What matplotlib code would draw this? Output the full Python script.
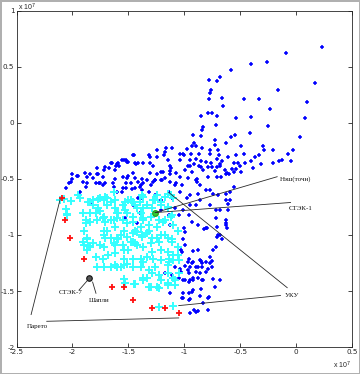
import numpy as np
import matplotlib
matplotlib.use("Agg")
import matplotlib.pyplot as plt
from matplotlib.ticker import FixedLocator, FuncFormatter

# all values in units of 1e7
blue_pts = [
    (0.23, 0.68), (-0.09, 0.62), (-0.26, 0.54), (-0.40, 0.53), (-0.58, 0.47), (-0.68, 0.41),
    (-0.78, 0.38), (-0.71, 0.37), (0.17, 0.36), (-0.16, 0.29), (-0.76, 0.29), (-0.77, 0.27),
    (-0.78, 0.21), (-0.33, 0.21), (-0.47, 0.21), (-0.66, 0.22), (0.10, 0.19), (-0.65, 0.15),
    (-0.23, 0.12), (-0.79, 0.09), (-0.75, 0.09), (-0.71, 0.06), (-0.85, 0.06), (-0.54, 0.04),
    (-0.40, 0.05), (0.08, 0.04), (-0.72, -0.02), (-0.83, -0.04), (-0.84, -0.06), (-0.25, -0.03),
    (-0.41, -0.09), (-0.92, -0.11), (-0.85, -0.12), (-0.55, -0.11), (-0.58, -0.13), (0.03, -0.13),
    (-0.73, -0.15), (-0.91, -0.18), (-0.93, -0.21), (-0.90, -0.21), (-0.73, -0.20), (-0.98, -0.23),
    (-0.84, -0.22), (-0.63, -0.18), (-0.49, -0.21), (-0.30, -0.21), (-0.29, -0.24), (-0.21, -0.24),
    (-0.03, -0.24), (-0.70, -0.24), (-0.77, -0.24), (-0.87, -0.28), (-0.94, -0.28), (-1.01, -0.28),
    (-0.77, -0.28), (-0.69, -0.29), (-0.61, -0.30), (-0.47, -0.28), (-0.54, -0.29), (-0.07, -0.28),
    (-0.33, -0.29), (-0.37, -0.30), (-0.71, -0.32), (-0.90, -0.32), (-0.85, -0.34), (-0.81, -0.35),
    (-0.76, -0.36), (-0.66, -0.34), (-0.68, -0.37), (-0.56, -0.36), (-0.52, -0.36), (-0.46, -0.36),
    (-0.40, -0.34), (-0.31, -0.37), (-0.21, -0.36), (-0.15, -0.34), (-0.13, -0.33), (-0.05, -0.34),
    (-0.97, -0.38), (-0.95, -0.38), (-0.91, -0.37), (-0.87, -0.38), (-0.85, -0.39), (-0.83, -0.42),
    (-0.79, -0.39), (-0.75, -0.39), (-0.73, -0.43), (-0.71, -0.39), (-0.68, -0.38), (-0.64, -0.42),
    (-0.63, -0.46), (-0.62, -0.45), (-0.60, -0.46), (-0.57, -0.41), (-0.54, -0.41), (-0.50, -0.38),
    (-0.56, -0.44), (-0.49, -0.44), (-0.39, -0.40), (-0.71, -0.48), (-0.67, -0.48), (-0.79, -0.48),
    (-0.89, -0.50),
    # left band
    (-2.00, -0.46), (-2.01, -0.53), (-2.06, -0.58), (-1.96, -0.47), (-1.89, -0.45), (-1.87, -0.48),
    (-1.82, -0.49), (-1.78, -0.40), (-1.78, -0.46), (-1.73, -0.48), (-1.79, -0.54), (-1.75, -0.54),
    (-1.72, -0.42), (-1.66, -0.36), (-1.62, -0.42), (-1.63, -0.57), (-1.60, -0.37), (-1.58, -0.38),
    (-1.56, -0.33), (-1.52, -0.33), (-1.50, -0.35), (-1.51, -0.49), (-1.46, -0.29), (-1.44, -0.36),
    (-1.41, -0.36), (-1.39, -0.55), (-1.37, -0.54), (-1.33, -0.51), (-1.31, -0.30), (-1.31, -0.36),
    (-1.31, -0.45), (-1.30, -0.55), (-1.28, -0.53), (-1.26, -0.51), (-1.24, -0.24), (-1.24, -0.46),
    (-1.21, -0.51), (-1.19, -0.44), (-1.17, -0.49), (-1.18, -0.29), (-1.16, -0.22), (-1.15, -0.33),
    (-1.13, -0.43), (-1.12, -0.40), (-1.11, -0.22), (-1.07, -0.54), (-1.04, -0.28), (-1.04, -0.48),
    (-1.54, -0.33), (-1.59, -0.36), (-1.61, -0.38), (-1.65, -0.36), (-1.67, -0.40), (-1.71, -0.39),
    (-1.77, -0.46), (-1.84, -0.46), (-1.95, -0.47), (-2.00, -0.50), (-2.03, -0.54), (-1.91, -0.53),
    (-1.87, -0.54), (-1.88, -0.57), (-1.76, -0.54), (-1.73, -0.55), (-1.71, -0.54), (-1.64, -0.54),
    (-1.62, -0.50), (-1.55, -0.48), (-1.50, -0.47), (-1.46, -0.45), (-1.44, -0.49), (-1.52, -0.54),
    (-1.48, -0.54), (-1.41, -0.53), (-1.38, -0.50), (-1.55, -0.58), (-1.52, -0.58), (-1.47, -0.59),
    (-1.44, -0.58), (-1.40, -0.57), (-1.38, -0.60), (-1.56, -0.62), (-1.60, -0.62), (-1.41, -0.67),
    (-1.38, -0.67), (-1.46, -0.73), (-1.40, -0.80), (-1.53, -0.85), (-1.42, -0.89), (-1.93, -0.62),
    (-1.83, -0.71), (-1.45, -0.29), (-1.37, -0.36), (-1.43, -0.37), (-1.51, -0.35),
    # middle
    (-1.32, -0.29), (-1.24, -0.30), (-1.17, -0.26), (-1.13, -0.38), (-1.04, -0.33), (-1.00, -0.29),
    (-1.28, -0.38), (-1.21, -0.44), (-1.13, -0.46), (-1.07, -0.45), (-0.99, -0.42), (-0.95, -0.33),
    (-1.26, -0.51), (-1.20, -0.51), (-1.13, -0.53), (-1.08, -0.55), (-1.02, -0.55), (-0.97, -0.49),
    (-0.93, -0.44), (-0.90, -0.51), (-0.86, -0.55), (-0.81, -0.60), (-0.77, -0.60), (-0.70, -0.64),
    (-0.63, -0.63), (-0.59, -0.69), (-1.32, -0.62), (-1.26, -0.64), (-1.21, -0.69), (-1.14, -0.62),
    (-1.11, -0.67), (-1.04, -0.62), (-0.98, -0.67), (-0.95, -0.64), (-0.90, -0.73), (-0.86, -0.69),
    (-0.77, -0.73), (-0.72, -0.78), (-0.61, -0.78), (-1.01, -0.78), (-0.96, -0.82), (-0.93, -0.88),
    (-0.88, -0.91), (-0.80, -0.94), (-0.72, -0.85), (-0.95, -0.73), (-1.21, -0.78), (-1.14, -0.82),
    (-1.08, -0.76), (-1.05, -0.82), (-1.13, -0.91), (-0.63, -0.91),
    # lower right column
    (-0.89, -0.53), (-0.88, -0.63), (-0.56, -0.57), (-0.59, -0.62), (-0.74, -0.63), (-0.63, -0.69),
    (-0.61, -0.72), (-0.68, -0.78), (-0.63, -0.87), (-0.63, -0.89), (-0.81, -0.94), (-0.71, -0.93),
    (-0.68, -1.00), (-0.71, -1.02), (-0.72, -1.11), (-0.74, -1.13), (-0.77, -1.20), (-0.75, -1.23),
    (-0.88, -1.13), (-0.92, -1.14), (-0.86, -1.22), (-0.84, -1.25), (-0.93, -1.25), (-0.95, -1.29),
    (-0.88, -1.29), (-0.81, -1.33), (-0.79, -1.30), (-0.97, -1.31), (-0.88, -1.38), (-0.92, -1.40),
    (-0.83, -1.40), (-0.96, -1.42), (-1.01, -1.40), (-0.73, -1.46), (-0.85, -1.48), (-0.92, -1.49),
    (-0.96, -1.52), (-1.01, -1.56), (-0.95, -1.57), (-0.86, -1.54), (-0.79, -1.56), (-0.83, -1.61),
    (-0.79, -1.67), (-0.90, -1.69), (-0.95, -1.70),
    (-1.00, -0.94), (-0.99, -0.97), (-0.82, -0.95), (-0.62, -0.94), (-0.70, -1.00), (-0.66, -1.04),
    (-1.01, -1.04), (-0.99, -1.09), (-1.03, -1.13), (-1.02, -1.15), (-0.96, -1.21), (-0.97, -1.24),
    (-0.92, -1.24), (-0.85, -1.23), (-0.81, -1.24), (-0.77, -1.25), (-0.75, -1.29), (-0.84, -1.29),
    (-0.90, -1.29), (-0.99, -1.28), (-1.04, -1.30), (-1.03, -1.33), (-1.08, -1.29), (-0.90, -1.33),
    (-0.96, -1.34), (-0.86, -1.34), (-0.92, -1.38), (-0.99, -1.40), (-0.95, -1.40), (-0.84, -1.40),
    (-0.74, -1.39), (-0.68, -1.40), (-1.05, -1.38), (-1.11, -1.36), (-1.17, -1.34), (-1.13, -1.52),
    (-1.01, -1.52), (-0.93, -1.51), (-0.78, -1.55), (-1.02, -1.56), (-0.96, -1.58), (-0.91, -1.67),
    (-0.88, -1.68),
]

cyan_pts = [
    (-2.11, -0.69), (-2.06, -0.77), (-2.05, -0.81), (-2.01, -0.70), (-1.93, -0.67), (-1.91, -0.80),
    (-1.88, -0.87), (-1.84, -0.71), (-1.82, -0.73), (-1.79, -0.80), (-1.77, -0.76), (-1.75, -0.67),
    (-1.72, -0.69), (-1.69, -0.67), (-1.66, -0.71), (-1.72, -0.84), (-1.71, -0.88), (-1.78, -0.87),
    (-1.84, -0.88), (-1.90, -0.96), (-1.87, -1.04), (-1.82, -1.07), (-1.90, -1.09), (-1.84, -1.11),
    (-1.75, -1.09), (-1.72, -1.00), (-1.69, -0.96), (-1.66, -1.03), (-1.62, -0.93), (-1.63, -0.87),
    (-1.59, -0.80), (-1.55, -0.87), (-1.53, -0.78), (-1.50, -0.69), (-1.46, -0.71), (-1.42, -0.76),
    (-1.46, -0.84), (-1.51, -0.89), (-1.54, -0.96), (-1.57, -1.00), (-1.60, -1.03), (-1.62, -1.09),
    (-1.55, -1.09), (-1.51, -1.02), (-1.46, -0.98), (-1.44, -0.96), (-1.39, -0.93), (-1.46, -1.06),
    (-1.42, -1.09), (-1.38, -1.02), (-1.33, -0.98), (-1.37, -0.87), (-1.30, -0.84), (-1.39, -0.80),
    (-1.33, -0.73), (-1.37, -0.66), (-1.28, -0.69), (-1.24, -0.64), (-1.21, -0.71), (-1.15, -0.75),
    (-1.15, -0.63), (-1.10, -0.67), (-1.12, -0.84), (-1.19, -0.88), (-1.24, -0.93), (-1.21, -1.00),
    (-1.15, -1.03), (-1.23, -1.06), (-1.30, -1.07), (-1.29, -1.15), (-1.21, -1.13), (-1.15, -1.15),
    (-1.10, -1.18), (-1.11, -1.04), (-1.06, -0.96), (-1.06, -1.11), (-1.05, -1.22), (-1.14, -1.24),
    (-1.21, -1.22), (-1.28, -1.21), (-1.33, -1.20), (-1.39, -1.21), (-1.46, -1.21), (-1.54, -1.21),
    (-1.62, -1.27), (-1.57, -1.29), (-1.66, -1.29), (-1.73, -1.21), (-1.79, -1.20), (-1.78, -1.29),
    (-1.87, -1.13),
    (-1.54, -1.39), (-1.53, -1.43), (-1.44, -1.44), (-1.37, -1.40), (-1.33, -1.38), (-1.30, -1.46),
    (-1.24, -1.46), (-1.21, -1.40), (-1.15, -1.43), (-1.15, -1.34), (-1.10, -1.38), (-1.08, -1.40),
    (-1.05, -1.34), (-1.23, -1.64), (-1.10, -1.63),
    (-1.32, -0.96), (-1.24, -1.03), (-1.29, -1.03), (-1.17, -1.00), (-1.11, -1.06), (-1.14, -1.21),
    (-1.15, -1.27), (-1.10, -1.22), (-1.06, -1.18), (-1.32, -1.31), (-1.26, -1.29), (-1.29, -1.34),
    (-1.23, -1.36), (-1.15, -1.45), (-1.08, -1.45), (-1.32, -1.46), (-1.23, -1.47),
    (-1.26, -0.69), (-1.21, -0.73), (-1.29, -0.76), (-1.15, -0.76), (-1.12, -0.64), (-1.17, -0.66),
    (-1.11, -0.82), (-1.23, -0.87), (-1.17, -0.87), (-1.10, -0.91), (-1.32, -0.91),
    (-2.08, -0.68), (-1.95, -0.64), (-1.86, -0.71), (-1.82, -0.69), (-1.77, -0.68), (-1.71, -0.66),
    (-1.63, -0.62), (-1.62, -0.69), (-1.69, -0.73), (-1.62, -0.76), (-1.55, -0.73), (-1.53, -0.71),
    (-1.48, -0.69), (-1.44, -0.73), (-1.40, -0.71), (-1.38, -0.64), (-1.37, -0.76), (-1.51, -0.80),
    (-1.60, -0.85), (-1.66, -0.87), (-1.73, -0.85), (-1.88, -0.89), (-2.05, -0.82), (-1.84, -0.80),
    (-1.75, -0.79), (-1.60, -0.80), (-1.46, -0.88), (-1.37, -0.85),
    (-1.87, -1.03), (-1.91, -1.06), (-1.86, -1.10), (-1.72, -0.96), (-1.71, -1.03), (-1.72, -1.11),
    (-1.66, -1.03), (-1.63, -1.07), (-1.59, -1.04), (-1.48, -1.06), (-1.44, -1.07), (-1.42, -0.97),
    (-1.38, -1.00), (-1.37, -1.11), (-1.54, -1.13), (-1.50, -1.13), (-1.62, -1.16), (-1.68, -1.18),
    (-1.72, -1.29), (-1.60, -1.29), (-1.54, -1.27), (-1.51, -1.26), (-1.46, -1.29), (-1.39, -1.29),
    (-1.37, -1.24), (-1.45, -1.44), (-1.37, -1.38),
]

red_pts = [
    (-2.09, -0.67), (-2.07, -0.87), (-2.02, -1.03), (-1.90, -1.21), (-1.65, -1.46),
    (-1.54, -1.46), (-1.46, -1.58), (-1.29, -1.65), (-1.17, -1.65), (-1.05, -1.70),
]

nash_pt = (-1.26, -0.80)
shapley_pt = (-1.85, -1.38)

xticks = [-2.5, -2, -1.5, -1, -0.5, 0, 0.5]
yticks = [-2, -1.5, -1, -0.5, 0, 0.5, 1]

fig = plt.figure(figsize=(3.6, 3.74), dpi=100)
fig.patch.set_edgecolor("#b0b0b0")
fig.patch.set_linewidth(1.0)
ax = fig.add_axes([0.046, 0.072, 0.932, 0.899])

b = np.array(blue_pts)
c = np.array(cyan_pts)
r = np.array(red_pts)
ax.plot(b[:, 0], b[:, 1], "+", color="#0000ff", ms=3.4, mew=1.1, ls="none")
ax.plot(c[:, 0], c[:, 1], "+", color="#33ffff", ms=5.2, mew=1.4, ls="none")
ax.plot(r[:, 0], r[:, 1], "+", color="#ff1010", ms=5, mew=1.3, ls="none")
ax.plot(*nash_pt, "o", color="#33cc33", mec="#22aa22", ms=4)
ax.plot(*shapley_pt, "o", color="#555555", mec="#111111", ms=4, mew=0.8)

# annotation lines
lc = "#2a2a2a"
lw = 0.6
ax.plot([-2.37, -2.11], [-1.71, -0.68], color=lc, lw=lw)
ax.plot([-2.23, -1.05], [-1.77, -1.74], color=lc, lw=lw)
ax.plot([-1.87, -1.94], [-1.41, -1.49], color=lc, lw=lw)
ax.plot([-1.82, -1.79], [-1.42, -1.52], color=lc, lw=lw)
ax.plot([nash_pt[0], -0.17], [nash_pt[1], -0.48], color=lc, lw=lw)
ax.plot([nash_pt[0], -0.05], [nash_pt[1], -0.71], color=lc, lw=lw)
ax.plot([-1.14, -0.08], [-0.62, -1.47], color=lc, lw=lw)
ax.plot([-1.05, -0.14], [-1.63, -1.54], color=lc, lw=lw)

tf = dict(fontsize=5, family=["Liberation Serif", "DejaVu Serif"], color="#111111")
ax.text(-2.31, -1.82, "Парето", ha="center", va="center", **tf)
ax.text(-2.02, -1.51, "СТЭК-7", ha="center", va="center", **tf)
ax.text(-1.76, -1.58, "Шапли", ha="center", va="center", **tf)
ax.text(-0.15, -0.50, "Нэш(точн)", ha="left", va="center", **tf)
ax.text(-0.07, -0.76, "СТЭК-1", ha="left", va="center", **tf)
ax.text(-0.10, -1.54, "УКУ", ha="left", va="center", **tf)

ax.set_xlim(-2.5, 0.5)
ax.set_ylim(-2, 1)
ax.xaxis.set_major_locator(FixedLocator(xticks))
ax.yaxis.set_major_locator(FixedLocator(yticks))
fmt = FuncFormatter(lambda v, p: "%g" % v)
ax.xaxis.set_major_formatter(fmt)
ax.yaxis.set_major_formatter(fmt)
ax.tick_params(direction="in", length=3, width=0.6, top=True, right=True,
               labelsize=5.2, colors="#262626", pad=1.5)
for s in ax.spines.values():
    s.set_linewidth(0.6)
    s.set_color("#262626")

sf = dict(fontsize=5, family=["Liberation Sans", "DejaVu Sans"], color="#262626")
fig.text(18 / 360, 1 - 7 / 374, r"x 10$^7$", ha="left", va="center", **sf)
fig.text(333 / 360, 1 - 365 / 374, r"x 10$^7$", ha="left", va="center", **sf)

fig.savefig("out.png", dpi=100)
